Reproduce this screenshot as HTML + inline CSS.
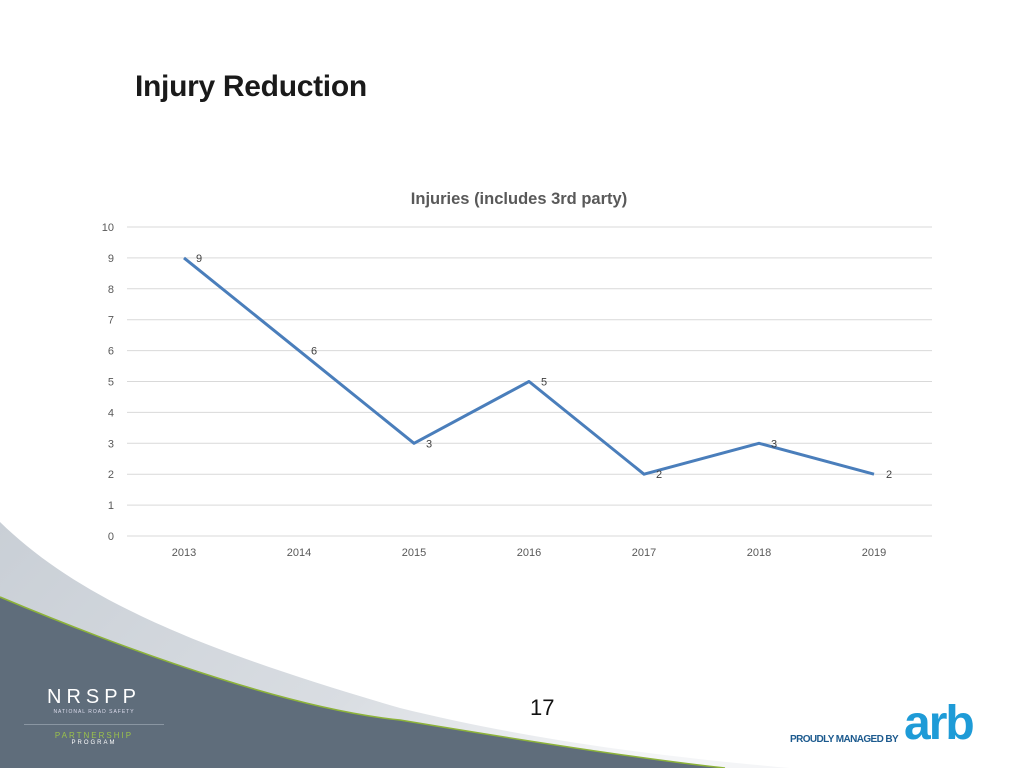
<!DOCTYPE html>
<html><head><meta charset="utf-8"><style>
body{margin:0;width:1024px;height:768px;overflow:hidden;background:#fff;font-family:"Liberation Sans",sans-serif;position:relative}
.t{position:absolute}
</style></head><body>
<svg class="t" style="left:0;top:0" width="1024" height="768">
<defs><linearGradient id="g" x1="0" y1="0" x2="1" y2="0.3"><stop offset="0" stop-color="#c9cfd6"/><stop offset="0.6" stop-color="#d9dde2"/><stop offset="1" stop-color="#f4f5f7"/></linearGradient></defs>
<path d="M0,522 C80,600 200,650 400,708 C550,745 700,760 790,768 L0,768 Z" fill="url(#g)"/>
<path d="M0,597 C150,660 300,710 400,720 C520,740 650,760 725,768 L0,768 Z" fill="#5f6d7b"/>
<path d="M0,597 C150,660 300,710 400,720 C520,740 650,760 725,768" fill="none" stroke="#8db33a" stroke-width="1.5"/>
</svg>
<div class="t" style="left:135px;top:70px;font-size:30px;font-weight:bold;color:#1a1a1a;letter-spacing:-0.3px">Injury Reduction</div>
<svg class="t" id="chart" style="left:0;top:0" width="1024" height="600"></svg>
<div class="t" style="left:530px;top:695px;font-size:22px;color:#111">17</div>
<div class="t" style="left:42px;top:686px;color:#fff;text-align:center;width:104px">
<div style="font-size:20px;letter-spacing:5px">NRSPP</div>
<div style="font-size:5px;letter-spacing:1px;color:#dde">NATIONAL ROAD SAFETY</div>
<div style="border-top:1px solid #8a96a2;margin:9px -18px 6px -18px"></div>
<div style="font-size:8px;letter-spacing:2px;color:#9bc24a">PARTNERSHIP</div>
<div style="font-size:6px;letter-spacing:2px">PROGRAM</div></div>
<div class="t" style="left:790px;top:692px;width:230px">
<span style="position:absolute;left:0;top:42px;font-size:10px;font-weight:bold;color:#1c5a8e;letter-spacing:-0.6px">PROUDLY MANAGED BY</span>
<span style="position:absolute;left:114px;top:4px;font-size:48px;font-weight:bold;color:#1e9bd7;letter-spacing:-2px">arb</span></div>
<script>
const categories=["2013","2014","2015","2016","2017","2018","2019"];
const values=[9,6,3,5,2,3,2];
const yTicks=[0,1,2,3,4,5,6,7,8,9,10];
const svg=document.getElementById('chart');const NS='http://www.w3.org/2000/svg';
const x=i=>184+i*115, y=v=>536-v*30.9;
function mk(t,a){const e=document.createElementNS(NS,t);for(const k in a)e.setAttribute(k,a[k]);svg.appendChild(e);return e;}
yTicks.forEach(v=>{const l=mk('line',{x1:127,x2:932,y1:y(v),y2:y(v),stroke:'#d9d9d9','stroke-width':1});


const t=mk('text',{x:114,y:y(v)+4,'font-size':11,fill:'#595959','text-anchor':'end'});t.textContent=v;

});
categories.forEach((c,i)=>{const t=mk('text',{x:x(i),y:556,'font-size':11,fill:'#595959','text-anchor':'middle'});t.textContent=c;

});
const p=mk('polyline',{points:values.map((v,i)=>x(i)+','+y(v)).join(' '),fill:'none',stroke:'#4a7ebb','stroke-width':3,'stroke-linejoin':'round'});


values.forEach((v,i)=>{const t=mk('text',{x:x(i)+12,y:y(v)+4,'font-size':11,fill:'#404040','text-anchor':'start'});t.textContent=v;

});
const ti=mk('text',{x:519,y:204,'font-size':16.5,'font-weight':'bold',fill:'#595959','text-anchor':'middle'});ti.textContent='Injuries (includes 3rd party)';


</script>
</body></html>
